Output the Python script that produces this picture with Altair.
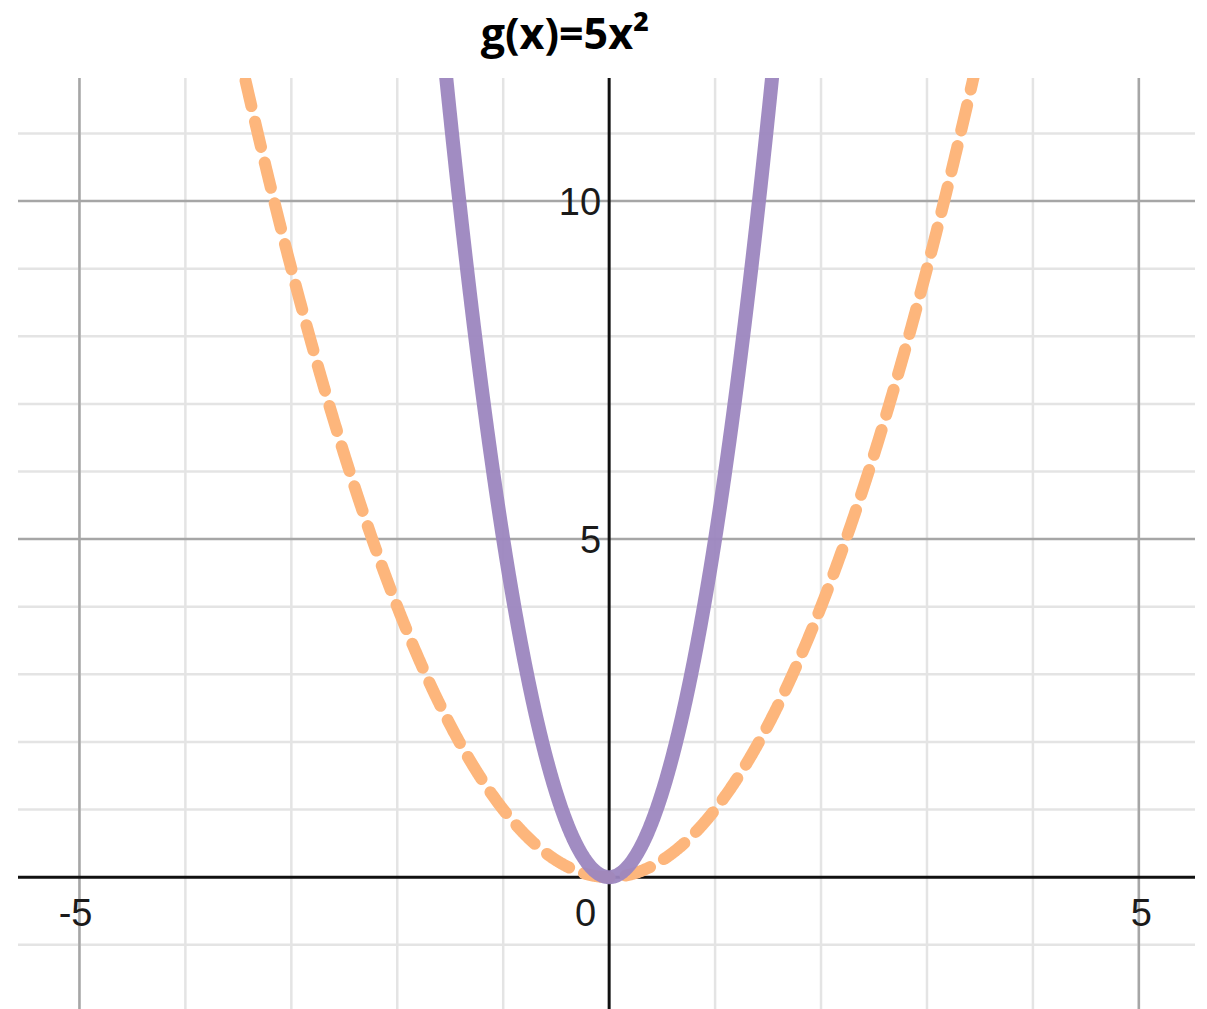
import altair as alt
import pandas as pd

# Curves: y = a * x^2
coef_parent = 1   # f(x) = x^2 (dashed reference)
coef_g = 5        # g(x) = 5x^2

x_domain = [-5.58, 5.53]
y_domain = [-1.95, 11.82]

minor_x = [-5, -4, -3, -2, -1, 1, 2, 3, 4, 5]
minor_y = [-1, 1, 2, 3, 4, 6, 7, 8, 9, 11]
major_x = [-5, 5]
major_y = [5, 10]

x_tick_labels = ["-5", "5"]
x_tick_values = [-5, 5]
y_tick_labels = ["5", "10"]
y_tick_values = [5, 10]

W, H = 1177, 931

xs = alt.Scale(domain=x_domain, nice=False, zero=False)
ys = alt.Scale(domain=y_domain, nice=False, zero=False)
X = lambda f: alt.X(f, type="quantitative", scale=xs, axis=None)
Y = lambda f: alt.Y(f, type="quantitative", scale=ys, axis=None)

vmin = alt.Chart(pd.DataFrame({"v": minor_x})).mark_rule(color="#e4e4e4", strokeWidth=2.5).encode(x=X("v"))
hmin = alt.Chart(pd.DataFrame({"v": minor_y})).mark_rule(color="#e4e4e4", strokeWidth=2.5).encode(y=Y("v"))
vmaj = alt.Chart(pd.DataFrame({"v": major_x})).mark_rule(color="#a6a6a6", strokeWidth=2.5).encode(x=X("v"))
hmaj = alt.Chart(pd.DataFrame({"v": major_y})).mark_rule(color="#a6a6a6", strokeWidth=2.5).encode(y=Y("v"))
axes_v = alt.Chart(pd.DataFrame({"v": [0]})).mark_rule(color="#111111", strokeWidth=3).encode(x=X("v"))
axes_h = alt.Chart(pd.DataFrame({"v": [0]})).mark_rule(color="#111111", strokeWidth=3).encode(y=Y("v"))

curve_base = alt.Chart(alt.sequence(-5.6, 5.6, 0.005, as_="x"))

parent = curve_base.transform_calculate(y=f"{coef_parent} * datum.x * datum.x").mark_line(
    color="#fdb67c", strokeWidth=12, strokeDash=[26, 16], strokeCap="round", clip=True
).encode(x=X("x"), y=Y("y"), order="x:Q")

g_curve = curve_base.transform_calculate(y=f"{coef_g} * datum.x * datum.x").mark_line(
    color="#9c86bf", strokeWidth=14, opacity=0.95, clip=True
).encode(x=X("x"), y=Y("y"), order="x:Q")

font = "Liberation Sans"
fs = 38
xlab = alt.Chart(pd.DataFrame({"v": x_tick_values, "t": x_tick_labels, "y0": [0, 0]})).mark_text(
    font=font, fontSize=fs, align="right", baseline="alphabetic", dx=13, dy=49, color="#1a1a1a"
).encode(x=X("v"), y=Y("y0"), text="t:N")
zero_lab = alt.Chart(pd.DataFrame({"v": [0], "t": ["0"]})).mark_text(
    font=font, fontSize=fs, align="right", baseline="alphabetic", dx=-13, dy=49, color="#1a1a1a"
).encode(x=X("v"), y=Y("v"), text="t:N")
ylab = alt.Chart(pd.DataFrame({"v": y_tick_values, "t": y_tick_labels, "x0": [0, 0]})).mark_text(
    font=font, fontSize=fs, align="right", baseline="alphabetic", dx=-8, dy=14, color="#1a1a1a"
).encode(x=X("x0"), y=Y("v"), text="t:N")

title = alt.Chart(pd.DataFrame({"t": ["g(x)=5x²"]})).mark_text(
    font="Open Sans", fontSize=43, fontWeight="bold", align="center", baseline="alphabetic", color="#000000"
).encode(x=alt.value(565 - 18), y=alt.value(49 - 78), text="t:N")

chart = alt.layer(
    vmin, hmin, vmaj, hmaj, axes_v, axes_h, parent, g_curve, xlab, zero_lab, ylab, title
).properties(
    width=W, height=H,
    padding={"left": 18, "top": 78, "right": 12, "bottom": 0},
    autosize=alt.AutoSizeParams(type="none"),
    background="white",
).configure_view(stroke=None)

chart.save("out.html", embed_options={"renderer": "svg", "actions": False})
